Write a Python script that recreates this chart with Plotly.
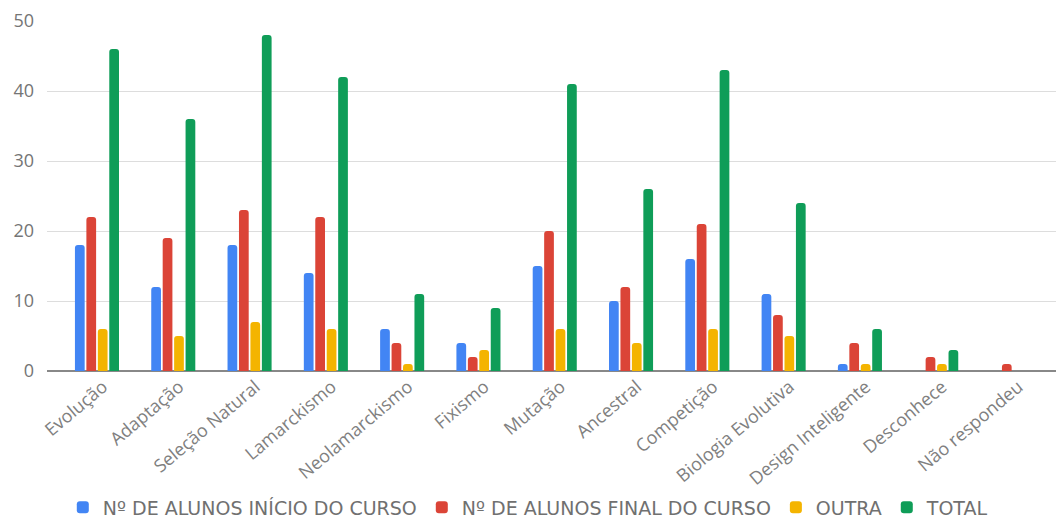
import plotly.graph_objects as go

categories = ["Evolução", "Adaptação", "Seleção Natural", "Lamarckismo", "Neolamarckismo",
              "Fixismo", "Mutação", "Ancestral", "Competição", "Biologia Evolutiva",
              "Design Inteligente", "Desconhece", "Não respondeu"]
inicio = [18, 12, 18, 14, 6, 4, 15, 10, 16, 11, 1, 0, 0]
final = [22, 19, 23, 22, 4, 2, 20, 12, 21, 8, 4, 2, 1]
outra = [6, 5, 7, 6, 1, 3, 6, 4, 6, 5, 1, 1, 0]
total = [46, 36, 48, 42, 11, 9, 41, 26, 43, 24, 6, 3, 0]

series = [
    ("Nº DE ALUNOS INÍCIO DO CURSO", inicio, "#4285F4"),
    ("Nº DE ALUNOS FINAL DO CURSO", final, "#DB4437"),
    ("OUTRA", outra, "#F4B400"),
    ("TOTAL", total, "#0F9D58"),
]

fig = go.Figure()
for name, vals, color in series:
    fig.add_trace(go.Bar(x=categories, y=vals, name=name, marker_color=color,
                         marker_line_width=0))

fig.update_layout(
    width=1056, height=518,
    margin=dict(l=47, r=0, t=21, b=147, autoexpand=False),
    paper_bgcolor="white", plot_bgcolor="white",
    barmode="group", bargap=0.4, bargroupgap=0.15, barcornerradius=3,
    font=dict(family="Open Sans", size=15, color="#757575"),
    legend=dict(orientation="h", x=0.477, xanchor="center", y=-0.39, yanchor="middle",
                font=dict(family="DejaVu Sans", size=19, color="#707070"), itemwidth=30,
                tracegroupgap=0),
    showlegend=True,
)
fig.update_xaxes(range=[-0.655, 12.57], tickangle=-40, showgrid=False, automargin=False,
                 tickfont=dict(family="Open Sans", size=18, color="#808080"), ticks="",
                 showline=False, ticklabelshift=6, ticklabelstandoff=1)
fig.update_yaxes(range=[0, 50], tickvals=[0, 10, 20, 30, 40, 50], showgrid=True,
                 gridcolor="#dddddd", gridwidth=1, zeroline=True, zerolinecolor="#888888",
                 zerolinewidth=2, automargin=False,
                 tickfont=dict(family="Open Sans", size=18, color="#757575"), ticks="",
                 ticklabelstandoff=12)

fig.write_html("out.html")
